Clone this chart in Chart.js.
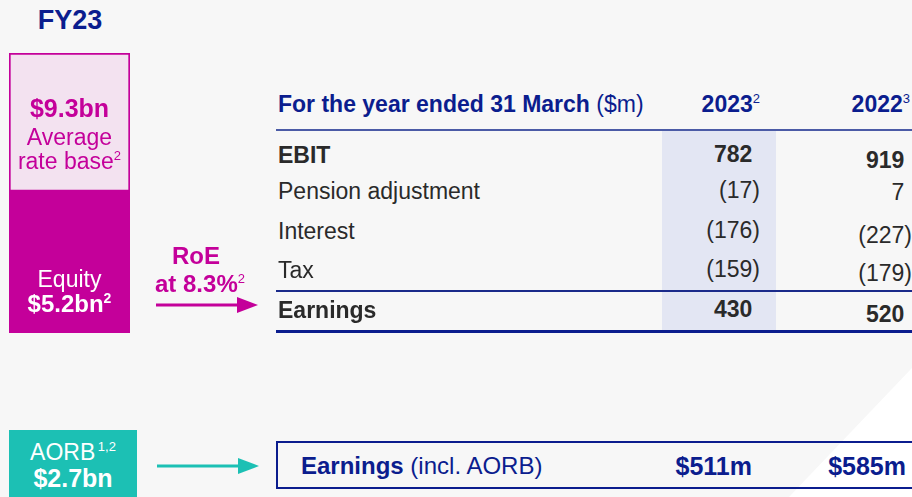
<!DOCTYPE html>
<html>
<head>
<meta charset="utf-8">
<script src="https://cdn.jsdelivr.net/npm/chart.js@4/dist/chart.umd.min.js"></script>
<style>
    body { margin: 0; width: 912px; height: 497px; overflow: hidden; background: #f7f7f7; font-family: "Liberation Sans", Arial, sans-serif; position: relative; }
    .abs { position: absolute; line-height: 30px; height: 30px; white-space: nowrap; }
    sup { font-size: 13px; vertical-align: baseline; position: relative; top: -9px; font-weight: 400; line-height: 0; }
    #glare { left: 0; top: 0; width: 912px; height: 497px; background: #ffffff; clip-path: polygon(912px 368px, 912px 497px, 789px 497px); }
    #fy { left: 0; width: 140px; top: 5px; text-align: center; font-size: 27px; font-weight: 700; color: #0b1d8e; }
    #bar-wrap { left: 9px; top: 53px; width: 121px; height: 280px; line-height: normal; }
    .barlabel { left: 9px; width: 121px; text-align: center; font-size: 23px; }
    .row { left: 278px; font-size: 23px; color: #2a2a2a; }
    .num { font-size: 23px; color: #2a2a2a; text-align: right; width: 120px; }
    .hline { left: 276px; width: 640px; }
    #shade { left: 662px; top: 131px; width: 114px; height: 199px; background: #e3e6f3; }
    #aorb-box { left: 9px; top: 430px; width: 128px; height: 80px; background: #1cc0b4; }
    .aorb { left: 9px; width: 128px; text-align: center; color: #fff; }
    #ebox { left: 276px; top: 441px; width: 650px; height: 48px; border: 2px solid #0b1d8e; box-sizing: border-box; color: #0b1d8e; font-size: 24px; }
</style>
</head>
<body>
<div class="abs" id="glare"></div>
<div class="abs" id="fy">FY23</div>
<div class="abs" id="bar-wrap"><canvas id="capital"></canvas></div>

<div class="abs barlabel" style="top: 93px; color: #c4009a; font-weight: 700; font-size: 25px;">$9.3bn</div>
<div class="abs barlabel" style="top: 122px; color: #c4009a;">Average</div>
<div class="abs barlabel" style="top: 146px; color: #c4009a;">rate base<sup>2</sup></div>
<div class="abs barlabel" style="top: 264px; color: #fff;">Equity</div>
<div class="abs barlabel" style="top: 289px; color: #fff; font-weight: 700; font-size: 24px;">$5.2bn<sup style="font-weight:700;font-size:14px">2</sup></div>

<div class="abs" style="left: 140px; width: 112px; top: 241px; text-align: center; color: #c4009a; font-weight: 700; font-size: 24px;">RoE</div>
<div class="abs" style="left: 140px; width: 120px; top: 269px; text-align: center; color: #c4009a; font-weight: 700; font-size: 24px;">at 8.3%<sup>2</sup></div>
<svg class="abs" style="left: 155px; top: 294px; line-height: normal;" width="105" height="22">
    <line x1="1" y1="11" x2="84" y2="11" stroke="#c4009a" stroke-width="3"/>
    <polygon points="82,3 103,11 82,19" fill="#c4009a"/>
</svg>

<div class="abs" id="shade"></div>
<div class="abs" style="left: 278px; top: 89px; font-size: 23px; color: #0b1d8e;"><b>For the year ended 31 March</b> ($m)</div>
<div class="abs" id="head2023" style="left: 640px; top: 89px; width: 120px; text-align: right; font-size: 23px; font-weight: 700; color: #0b1d8e;"></div>
<div class="abs" id="head2022" style="left: 790px; top: 89px; width: 120px; text-align: right; font-size: 23px; font-weight: 700; color: #0b1d8e;"></div>
<div class="abs hline" style="top: 129px; height: 2px; background: #4b5ba6;"></div>
<div class="abs hline" style="top: 290px; height: 1.5px; background: #1a2a8a;"></div>
<div class="abs hline" style="top: 330px; height: 2.5px; background: #0b1d8e;"></div>
<div id="table-rows"></div>

<div class="abs" id="aorb-box"></div>
<div class="abs aorb" style="top: 437px; font-size: 23px;">AORB<sup style="font-size:13px">&thinsp;1,2</sup></div>
<div class="abs aorb" style="top: 463px; font-size: 25px; font-weight: 700;">$2.7bn</div>
<svg class="abs" style="left: 156px; top: 455px; line-height: normal;" width="105" height="22">
    <line x1="1" y1="11" x2="84" y2="11" stroke="#1cc0b4" stroke-width="3"/>
    <polygon points="82,3 103,11 82,19" fill="#1cc0b4"/>
</svg>
<div class="abs" id="ebox">
    <div class="abs" style="left: 23px; top: 8px;"><b>Earnings</b> (incl. AORB)</div>
    <div class="abs" id="e2023" style="left: 354px; top: 8px; width: 120px; text-align: right; font-weight: 700; font-size: 25px;"></div>
    <div class="abs" id="e2022" style="left: 508px; top: 8px; width: 120px; text-align: right; font-weight: 700; font-size: 25px;"></div>
</div>

<script>
// capital structure, $bn
const equity = 5.2;
const rateBase = 9.3;
const aorb = 2.7;

// table
const years = ['2023', '2022'];
const yearNotes = ['2', '3'];
const rowLabels = ['EBIT', 'Pension adjustment', 'Interest', 'Tax', 'Earnings'];
const rowBold = [true, false, false, false, true];
const values2023 = [782, -17, -176, -159, 430];
const values2022 = [919, 7, -227, -179, 520];
const earningsInclAorb = [511, 585];

const rowTops = [140, 176, 216, 255, 295];
const col2022Shift = [5, 1, 4, 3, 4];

function fmt(v) {
    return v < 0 ? `(${-v})` : `${v}<span style="visibility:hidden">)</span>`;
}

document.getElementById('head2023').innerHTML = `${years[0]}<sup>${yearNotes[0]}</sup>`;
document.getElementById('head2022').innerHTML = `${years[1]}<sup>${yearNotes[1]}</sup>`;
document.getElementById('e2023').textContent = `$${earningsInclAorb[0]}m`;
document.getElementById('e2022').textContent = `$${earningsInclAorb[1]}m`;

const rows = document.getElementById('table-rows');
rowLabels.forEach((label, i) => {
    const w = rowBold[i] ? 'font-weight:700;' : '';
    rows.innerHTML += `
        <div class="abs row" style="top:${rowTops[i]}px;${w}">${label}</div>
        <div class="abs num" style="left:640px;top:${rowTops[i] - 1}px;${w}">${fmt(values2023[i])}</div>
        <div class="abs num" style="left:792px;top:${rowTops[i] + col2022Shift[i]}px;${w}">${fmt(values2022[i])}</div>
    `;
});

// stacked bar: equity + rest of the rate base
const ctx = document.getElementById('capital').getContext('2d');
new Chart(ctx, {
    type: 'bar',
    data: {
        labels: ['FY23'],
        datasets: [{
            label: 'Equity',
            data: [equity],
            backgroundColor: '#c4009a',
            borderWidth: 0,
            clip: 0,
        }, {
            label: 'Average rate base',
            data: [rateBase - equity],
            backgroundColor: '#f3e2f0',
            borderColor: '#c4009a',
            borderWidth: 2,
            borderSkipped: false,
            clip: 0,
        }],
    },
    options: {
        responsive: true,
        maintainAspectRatio: false,
        animation: false,
        layout: { padding: 0 },
        plugins: { legend: { display: false }, tooltip: { enabled: false } },
        datasets: { bar: { barPercentage: 1, categoryPercentage: 1 } },
        scales: {
            x: { stacked: true, display: false },
            y: { stacked: true, display: false, min: 1, max: rateBase },
        },
    },
});
</script>
</body>
</html>
